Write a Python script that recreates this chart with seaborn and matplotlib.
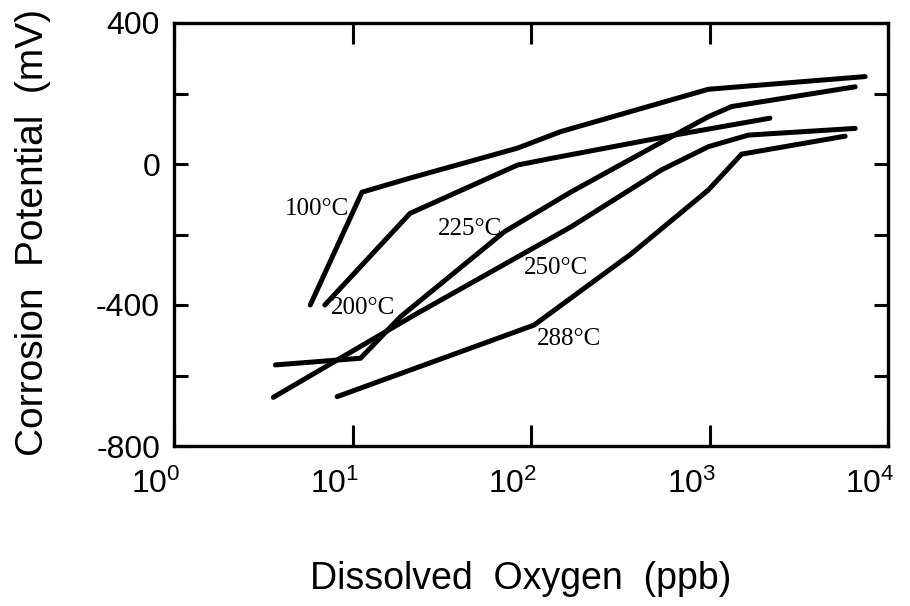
import numpy as np
import pandas as pd
import matplotlib
matplotlib.use("Agg")
import matplotlib.pyplot as plt
import seaborn as sns
from matplotlib.transforms import ScaledTranslation
from matplotlib.ticker import FixedLocator, FuncFormatter, LogFormatterSciNotation

# ---- data (dissolved oxygen in ppb, corrosion potential in mV) ----
do_100 = [5.8, 11.3, 21, 84, 147, 612, 985, 7450]
ecp_100 = [-400, -80, -40, 45, 92, 182, 212, 248]

do_200 = [7.0, 21, 84, 130, 636, 2180]
ecp_200 = [-400, -140, -3, 16, 82, 130]

do_225 = [3.7, 11.1, 18.6, 71, 168, 636, 984, 1330, 6550]
ecp_225 = [-570, -551, -433, -192, -79, 82, 134, 163, 219]

do_250 = [3.6, 8.6, 23, 168, 537, 984, 1650, 6550]
ecp_250 = [-662, -550, -424, -178, -17, 49, 82, 101]

do_288 = [8.2, 104, 364, 984, 1513, 5754]
ecp_288 = [-660, -457, -255, -74, 28, 79]

temps = ["100°C", "200°C", "225°C", "250°C", "288°C"]
series_do = [do_100, do_200, do_225, do_250, do_288]
series_ecp = [ecp_100, ecp_200, ecp_225, ecp_250, ecp_288]

y_ticks = [-800, -600, -400, -200, 0, 200, 400]
y_labels = {400: "400", 0: "0", -400: "-400", -800: "-800"}
x_ticks = [1, 10, 100, 1000, 10000]

rows = []
for t, xs, ys in zip(temps, series_do, series_ecp):
    for i, (x, y) in enumerate(zip(xs, ys)):
        rows.append({"temp": t, "order": i, "do": x, "ecp": y})
df = pd.DataFrame(rows)

sns.set_style("ticks")
plt.rcParams["font.family"] = ["Liberation Sans", "DejaVu Sans"]
plt.rcParams["axes.unicode_minus"] = False
plt.rcParams["mathtext.fontset"] = "custom"
plt.rcParams["mathtext.rm"] = "Liberation Sans"
plt.rcParams["mathtext.it"] = "Liberation Sans"
plt.rcParams["text.color"] = "black"
plt.rcParams["axes.labelcolor"] = "black"
plt.rcParams["xtick.color"] = "black"
plt.rcParams["ytick.color"] = "black"

fig = plt.figure(figsize=(9.10, 6.06), dpi=100)
ax = fig.add_axes([174 / 910, 1 - 446 / 606, (888 - 174) / 910, (446 - 23) / 606])

sns.lineplot(data=df, x="do", y="ecp", hue="temp", units="temp",
             palette=["black"] * 5, estimator=None, sort=False,
             legend=False, linewidth=3.6, ax=ax)

ax.set_xscale("log")
ax.set_xlim(1, 10000)
ax.set_ylim(-800, 400)

ax.xaxis.set_major_locator(FixedLocator(x_ticks))
ax.xaxis.set_major_formatter(LogFormatterSciNotation())
ax.xaxis.set_minor_locator(FixedLocator([]))
ax.yaxis.set_major_locator(FixedLocator(y_ticks))
ax.yaxis.set_major_formatter(FuncFormatter(lambda v, p: y_labels.get(int(round(v)), "")))

ax.tick_params(axis="both", which="major", direction="in", width=2.2,
               top=True, right=True, labelsize=23, colors="black")
ax.tick_params(axis="x", length=15, pad=16)
ax.tick_params(axis="y", length=10, pad=10)

for s in ax.spines.values():
    s.set_linewidth(2.4)
    s.set_color("black")

ax.set_xlabel("Dissolved  Oxygen  (ppb)", fontsize=27, color="black")
ax.set_ylabel("Corrosion  Potential  (mV)", fontsize=28, color="black")
ax.xaxis.set_label_coords(0.485, -0.272)
ax.yaxis.set_label_coords(-0.172, 0.505)

# shift x tick labels slightly left, as in the reference
off = ScaledTranslation(-18 / 100, 0, fig.dpi_scale_trans)
for lab in ax.get_xticklabels():
    lab.set_transform(lab.get_transform() + off)

label_pos = {"100°C": (6.36, -128), "200°C": (11.4, -408), "225°C": (45.4, -184),
             "250°C": (138, -295), "288°C": (163, -496)}
for t in temps:
    x, y = label_pos[t]
    ax.text(x, y, t, fontsize=18, family="Liberation Serif",
            ha="center", va="center", color="black")

ax.set_facecolor("white")
fig.patch.set_facecolor("white")
fig.savefig("out.png", dpi=100, facecolor="white")
